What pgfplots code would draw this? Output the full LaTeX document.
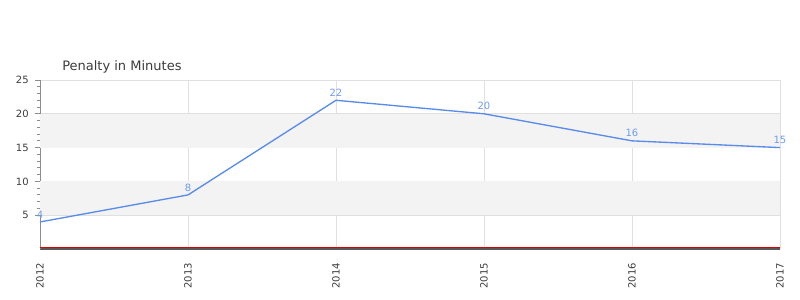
\documentclass[border=0pt]{standalone}
\usepackage{pgfplots}
\pgfplotsset{compat=1.18}
\usepackage{fontspec}
\setmainfont{DejaVu Sans}
\definecolor{lineblue}{RGB}{88,140,232}
\definecolor{labelblue}{RGB}{112,155,236}
\definecolor{bandgray}{RGB}{243,243,243}
\definecolor{gridgray}{RGB}{224,224,224}
\definecolor{textgray}{RGB}{60,60,60}
\begin{document}
\begin{tikzpicture}
\path (0pt,0pt) rectangle (600pt,225pt);
\node[anchor=base west, font=\fontsize{9.75pt}{11pt}\selectfont, text=textgray, inner sep=0pt] at (46.5pt,171.75pt) {Penalty in Minutes};
\begin{axis}[
  set layers,
  at={(30pt,38.25pt)}, anchor=south west,
  width=555pt, height=126.75pt, scale only axis,
  xmin=2012, xmax=2017, ymin=0, ymax=25,
  xtick={2012,2013,2014,2015,2016,2017},
  xticklabels={2012,2013,2014,2015,2016,2017},
  ytick={5,10,15,20,25},
  minor y tick num=4,
  xmajorgrids, ymajorgrids,
  major grid style={draw=gridgray, line width=0.75pt},
  axis x line*=bottom, axis y line*=left,
  x axis line style={draw=black!65, line width=1.1pt, -},
  y axis line style={draw=black!45, line width=0.75pt, -},
  tick align=outside,
  xtick style={draw=none},
  ytick style={draw=black!45, line width=0.75pt},
  major tick length=4pt, minor tick length=2.5pt,
  tick label style={font=\fontsize{7.5pt}{9pt}\selectfont, text=textgray},
  x tick label style={rotate=90, anchor=east},
  xticklabel shift=3pt,
  yticklabel shift=1pt,
  /pgf/number format/assume math mode=true,
  clip=false,
]
\fill[bandgray, on layer=axis background] (axis cs:2012,5) rectangle (axis cs:2017,10);
\fill[bandgray, on layer=axis background] (axis cs:2012,15) rectangle (axis cs:2017,20);
\addplot[color=lineblue, line width=1pt, mark=none,
  nodes near coords,
  every node near coord/.append style={font=\fontsize{7.5pt}{9pt}\selectfont, text=labelblue, yshift=-1pt}] coordinates {
(2012,4) (2013,8) (2014,22) (2015,20) (2016,16) (2017,15)};
\addplot[color=red!85!black, line width=0.6pt, mark=none] coordinates {(2012,0.25) (2017,0.25)};
\end{axis}
\end{tikzpicture}
\end{document}
